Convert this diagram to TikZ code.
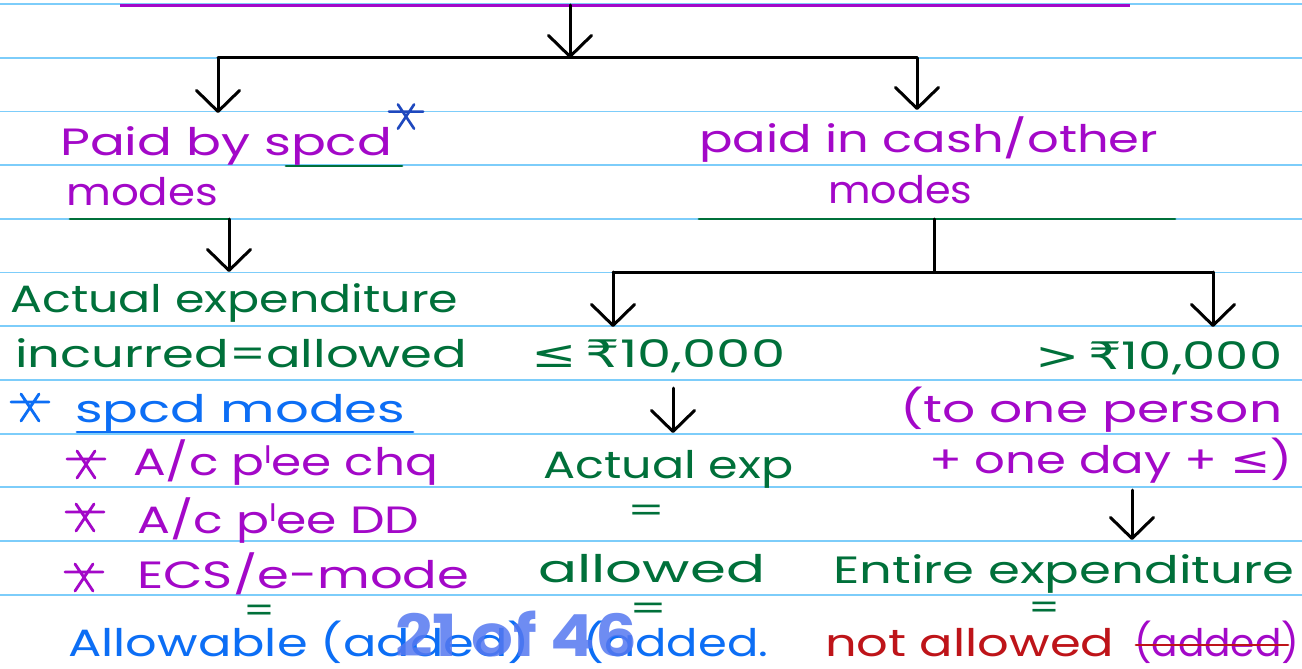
\documentclass[tikz,border=0pt]{standalone}
\usepackage{fontspec}
\usepackage{graphicx}
\setmainfont{Poppins}
\newfontfamily\symfont{DejaVu Sans}
\usetikzlibrary{arrows.meta}

% ink colours
\definecolor{inkpurple}{RGB}{163,8,200}
\definecolor{inkgreen}{RGB}{0,112,58}
\definecolor{inkblue}{RGB}{12,110,245}
\definecolor{inkdeepblue}{RGB}{30,72,190}
\definecolor{inkred}{RGB}{190,20,25}
\definecolor{paperrule}{RGB}{125,205,250}
\definecolor{pagemark}{RGB}{85,120,240}

% stretch a line of writing to a given width, keeping its height
\newcommand\handw[2]{\resizebox{#1pt}{\height}{#2}}
\newcommand\rupee{{\symfont ₹}}
\newcommand\leqs{{\symfont ≤}}
\newcommand\gts{{\symfont >}}
\newcommand\plee{p\raisebox{0.3em}{\fontsize{24}{24}\selectfont l}ee}

\tikzset{
  note/.style={anchor=base west, inner sep=0pt, font=\fontsize{38}{40}\selectfont},
  eqmark/.style={anchor=center, inner sep=0pt, font=\fontsize{34}{36}\selectfont, text=inkgreen},
  flow/.style={black, line width=3pt, line join=round, line cap=round},
  flowarrow/.style={flow, -{Straight Barb[length=21pt,width=43pt,round]}},
  underline/.style={line width=2.8pt, line cap=round},
  hstar/.pic={
    \draw[line cap=round] (-19,-6) -- (19,-6)
      (-9,-14) -- (9,13) (9,-14) -- (-9,13);
  }
}

\begin{document}
\begin{tikzpicture}[x=1pt,y=-1pt]
  \useasboundingbox[fill=white] (0,0) rectangle (1302,669);

  % ruled paper
  \foreach \k in {0,...,11}
    \draw[paperrule, line width=1.8pt] (0,{4+53.7*\k}) -- (1302,{4+53.7*\k});

  % heading rule
  \draw[inkpurple, line width=3.5pt] (120,5.5) -- (1130,5.5);

  % junction points of the tree
  \coordinate (top)     at (570,5);
  \coordinate (hubA)    at (570,58);
  \coordinate (barAl)   at (218,58);
  \coordinate (barAr)   at (917,58);
  \coordinate (tipspcd) at (218,113);
  \coordinate (tipcash) at (917,110);
  \coordinate (ulmodes) at (229,219);
  \coordinate (tipact)  at (229,272);
  \coordinate (ulcash)  at (934,219);
  \coordinate (hubB)    at (934,272);
  \coordinate (barBl)   at (613,272);
  \coordinate (barBr)   at (1213,272);
  \coordinate (tiple)   at (613,327);
  \coordinate (tipgt)   at (1213,327);
  \coordinate (fromle)  at (673,388);
  \coordinate (tipexp)  at (673,433);
  \coordinate (fromgt)  at (1132,490);
  \coordinate (tipent)  at (1132,540);

  % writing
  \node[note, text=inkpurple] (paidspcd) at (60,155) {\handw{332}{Paid by spcd}};
  \node[note, text=inkpurple] (spcdmodes) at (66,205) {\handw{152}{modes}};
  \node[note, text=inkpurple] (paidcash) at (699,152) {\handw{459}{paid in cash/other}};
  \node[note, text=inkpurple] (cashmodes) at (828,203) {\handw{144}{modes}};

  \node[note, text=inkgreen] (actual) at (10,312) {\handw{448}{Actual expenditure}};
  \node[note, text=inkgreen] (incurred) at (15,367) {\handw{452}{incurred=allowed}};
  \node[note, text=inkblue] (spcdhead) at (75,422) {\handw{330}{spcd modes}};
  \node[note, text=inkpurple] (chq) at (133,475) {\handw{305}{A/c \plee{} chq}};
  \node[note, text=inkpurple] (dd) at (137,533) {\handw{282}{A/c \plee{} DD}};
  \node[note, text=inkpurple] (ecs) at (137,588) {\handw{332}{ECS/e-mode}};
  \node[eqmark] (eqleft) at (260,614) {\handw{32}{=}};
  \node[note, text=inkblue] (allowable) at (68,656) {\handw{462}{Allowable (added)}};

  \node[note, text=inkgreen] (le) at (531,367) {\handw{254}{\leqs\,\rupee10,000}};
  \node[note, text=inkgreen] (actexp) at (543,478) {\handw{250}{Actual exp}};
  \node[eqmark] (eqmid1) at (646,514) {\handw{38}{=}};
  \node[note, text=inkgreen] (allowed) at (538,582) {\handw{227}{allowed}};
  \node[eqmark] (eqmid2) at (648,612) {\handw{38}{=}};
  \node[note, text=inkblue] (added) at (583,656) {\handw{185}{(added.}};

  \node[note, text=inkgreen] (gt) at (1035,369) {\handw{247}{\gts\,\rupee10,000}};
  \node[note, text=inkpurple] (toone) at (900,422) {\handw{382}{(to one person}};
  \node[note, text=inkpurple] (oneday) at (929,473) {\handw{363}{+ one day + \leqs)}};
  \node[note, text=inkgreen] (entire) at (833,583) {\handw{461}{Entire expenditure}};
  \node[eqmark] (eqright) at (1044,611) {\handw{32}{=}};
  \node[note, text=inkred] (notallowed) at (825,656) {\handw{289}{not allowed}};
  \node[note, text=inkpurple] (struck) at (1134,656) {\handw{165}{(added)}};

  % underlines and strike-through
  \draw[underline, inkgreen] (286,166) -- (402,166);
  \draw[underline, inkgreen] (70,219) -- (ulmodes);
  \draw[underline, inkgreen] (699,219) -- (1175,219);
  \draw[underline, inkblue] (77,432) -- (413,432);
  \draw[underline, inkred] (1136,645) -- (1288,645);

  % asterisks
  \pic[inkdeepblue, line width=2.6pt, scale=0.9] at (406,117) {hstar};
  \pic[inkblue, line width=2.8pt] at (30,408) {hstar};
  \pic[inkpurple, line width=2.8pt] at (86,465) {hstar};
  \pic[inkpurple, line width=2.8pt] at (85,518) {hstar};
  \pic[inkpurple, line width=2.8pt] at (84,578) {hstar};

  % connectors
  \draw[flowarrow] (top) -- (hubA);
  \draw[flow] (barAl) -- (barAr);
  \draw[flowarrow] (barAl) -- (tipspcd);
  \draw[flowarrow] (barAr) -- (tipcash);
  \draw[flowarrow] (ulmodes) -- (tipact);
  \draw[flow] (ulcash) -- (hubB);
  \draw[flow] (barBl) -- (barBr);
  \draw[flowarrow] (barBl) -- (tiple);
  \draw[flowarrow] (barBr) -- (tipgt);
  \draw[flowarrow] (fromle) -- (tipexp);
  \draw[flowarrow] (fromgt) -- (tipent);

  % page counter laid over the last line
  \node[anchor=base west, inner sep=0pt, text=pagemark, text opacity=0.85,
        font=\fontsize{58}{60}\selectfont\bfseries] (pagecount) at (395,656)
        {\handw{242}{21 of 46}};
\end{tikzpicture}
\end{document}
